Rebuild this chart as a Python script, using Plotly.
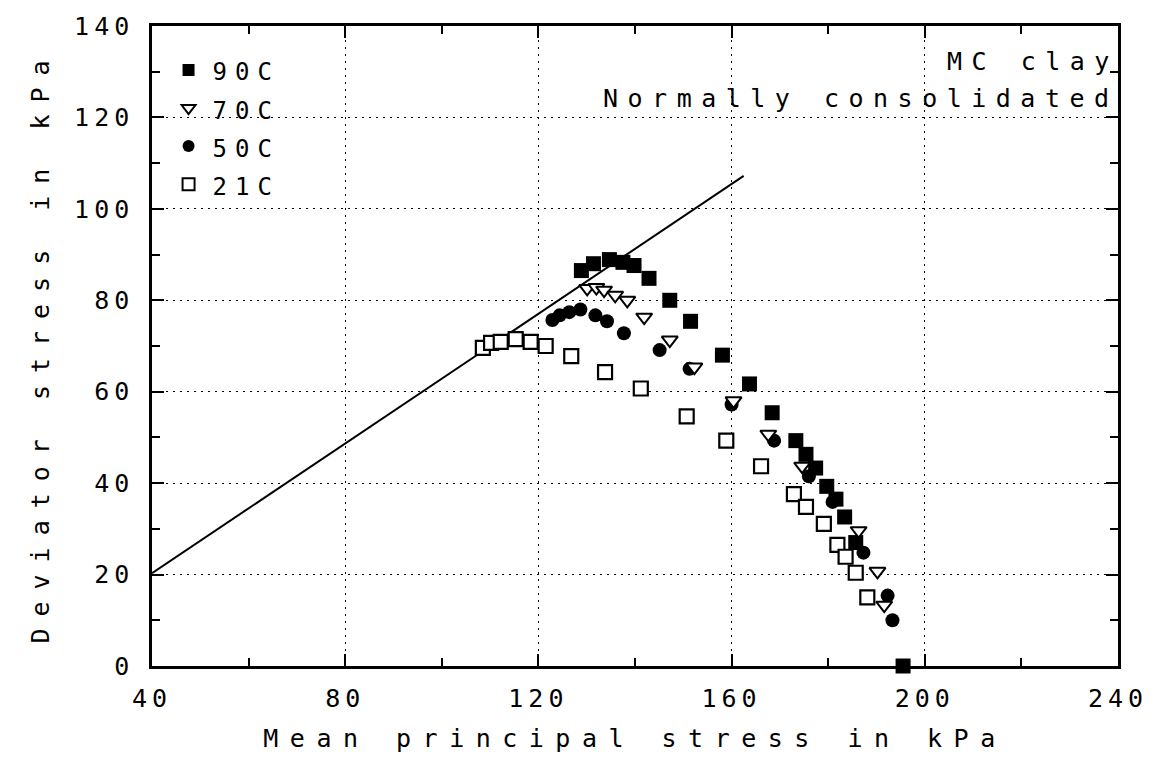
import plotly.graph_objects as go

# ---- data: mean principal stress p (kPa) vs deviator stress q (kPa) ----
p_90 = [128.9, 131.4, 134.7, 137.5, 139.8, 142.9, 147.2, 151.5, 158.1, 163.7,
        168.4, 173.3, 175.4, 177.4, 179.7, 181.6, 183.4, 185.7, 195.5]
q_90 = [86.5, 88.0, 88.9, 88.3, 87.6, 84.8, 80.0, 75.4, 68.0, 61.7,
        55.4, 49.3, 46.3, 43.3, 39.3, 36.5, 32.6, 27.0, 0.0]

p_70 = [130.1, 132.0, 133.6, 135.9, 138.4, 141.9, 147.2, 152.3, 160.4, 167.6,
        174.6, 186.3, 190.2, 191.6]
q_70 = [82.6, 82.8, 82.2, 81.1, 80.0, 76.3, 71.3, 65.4, 58.0, 50.7,
        43.7, 29.6, 20.7, 13.3]

p_50 = [122.9, 124.4, 126.4, 128.7, 131.8, 134.2, 137.7, 145.1, 151.3, 160.0,
        168.8, 176.0, 180.9, 187.3, 192.3, 193.3]
q_50 = [75.7, 76.7, 77.4, 78.0, 76.7, 75.4, 72.8, 69.1, 65.0, 57.2,
        49.3, 41.5, 35.9, 24.8, 15.4, 10.0]

p_21 = [108.5, 110.2, 112.2, 115.3, 118.4, 121.5, 126.8, 133.8, 141.2, 150.7,
        158.9, 166.1, 172.9, 175.4, 179.1, 181.9, 183.6, 185.7, 188.1]
q_21 = [69.6, 70.7, 70.9, 71.5, 70.9, 70.0, 67.8, 64.3, 60.7, 54.6,
        49.3, 43.7, 37.6, 34.8, 31.1, 26.5, 23.9, 20.4, 15.0]

# critical state line
csl_p = [40.0, 162.5]
csl_q = [20.3, 107.2]

x_tickvals = [40, 80, 120, 160, 200, 240]
x_ticklabels = ["40", "80", "120", "160", "200", "240"]
y_tickvals = [0, 20, 40, 60, 80, 100, 120, 140]
y_ticklabels = ["0", "20", "40", "60", "80", "100", "120", "140"]

FONT = "DejaVu Sans Mono"


def spaced(s, px, size=None):
    style = f"letter-spacing:{px}px"
    if size:
        style += f";font-size:{size}px"
    return f'<span style="{style}">{s}</span>'


fig = go.Figure()

fig.add_trace(go.Scatter(x=csl_p, y=csl_q, mode="lines",
                         line=dict(color="black", width=2),
                         showlegend=False, hoverinfo="skip"))

series = [
    ("21C", p_21, q_21, dict(symbol="square", color="white", size=14,
                              line=dict(color="black", width=2.2)), 4),
    ("90C", p_90, q_90, dict(symbol="square", color="black", size=15,
                              line=dict(color="black", width=0)), 1),
    ("50C", p_50, q_50, dict(symbol="circle", color="black", size=14,
                              line=dict(color="black", width=0)), 3),
    ("70C", p_70, q_70, dict(symbol="triangle-down", color="white", size=14,
                              line=dict(color="black", width=2)), 2),
]
for name, xs, ys, mk, rank in series:
    fig.add_trace(go.Scatter(x=xs, y=ys, mode="markers", marker=mk,
                             name=spaced(name, 8, 24), legendrank=rank,
                             cliponaxis=False))

axis_common = dict(
    showline=True, linecolor="black", linewidth=2.5, mirror="allticks",
    ticks="inside", tickcolor="black", tickwidth=2, ticklen=12,
    showgrid=True, gridcolor="black", gridwidth=1.4, griddash="2px,5px",
    zeroline=False,
    tickfont=dict(family=FONT, size=25, color="black"),
)

fig.update_xaxes(
    range=[40, 240], tickmode="array", tickvals=x_tickvals,
    ticktext=[spaced(t, 5) for t in x_ticklabels],
    minor=dict(ticks="inside", ticklen=8, tickwidth=2, tickcolor="black",
               dtick=20, tick0=40, showgrid=False),
    ticklabelstandoff=8,
    title=dict(text=spaced("Mean principal stress in kPa", 11.5),
               font=dict(family=FONT, size=25, color="black"), standoff=18),
    **axis_common,
)
fig.update_yaxes(
    range=[0, 140], tickmode="array", tickvals=y_tickvals,
    ticktext=[spaced(t, 5) for t in y_ticklabels],
    minor=dict(ticks="inside", ticklen=8, tickwidth=2, tickcolor="black",
               dtick=10, tick0=0, showgrid=False),
    ticklabelstandoff=10,
    title=dict(text=spaced("Deviator stress in kPa", 12),
               font=dict(family=FONT, size=25, color="black"), standoff=18),
    **axis_common,
)

fig.add_annotation(x=1.003, y=0.944, xref="paper", yref="paper",
                   xanchor="right", yanchor="middle", showarrow=False,
                   text=spaced("MC clay", 9.5),
                   font=dict(family=FONT, size=25, color="black"))
fig.add_annotation(x=1.003, y=0.887, xref="paper", yref="paper",
                   xanchor="right", yanchor="middle", showarrow=False,
                   text=spaced("Normally consolidated", 9.5),
                   font=dict(family=FONT, size=25, color="black"))

fig.update_layout(
    width=1160, height=760,
    margin=dict(l=152, r=38, t=24, b=92),
    paper_bgcolor="white", plot_bgcolor="white",
    showlegend=True,
    legend=dict(x=0.013, y=0.969, xanchor="left", yanchor="top",
                bgcolor="rgba(0,0,0,0)", borderwidth=0,
                font=dict(family=FONT, size=27, color="black"),
                itemsizing="constant", itemwidth=38, tracegroupgap=0),
)

fig.write_html("out.html")
